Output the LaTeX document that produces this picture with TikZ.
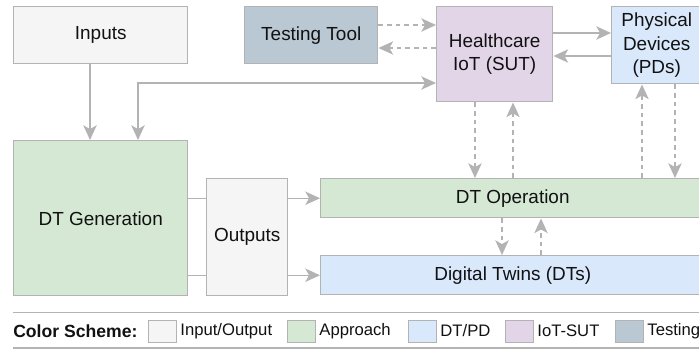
\documentclass[tikz,border=0pt]{standalone}
\usepackage{fontspec}
\setmainfont{Liberation Sans}
\usetikzlibrary{arrows.meta,positioning}

\definecolor{iofill}{HTML}{F5F5F5}
\definecolor{appfill}{HTML}{D5E8D4}
\definecolor{dtfill}{HTML}{DAE8FC}
\definecolor{iotfill}{HTML}{E1D5E7}
\definecolor{testfill}{HTML}{BAC8D3}
\definecolor{linegray}{HTML}{B3B3B3}
\definecolor{txt}{HTML}{111111}

\begin{document}
\begin{tikzpicture}[x=0.75pt,y=-0.75pt,
    box/.style={draw=linegray, line width=1.1pt, anchor=north west, align=center,
        inner sep=0pt, text=txt, font=\fontsize{14.2}{17.5}\selectfont},
    conn/.style={draw=linegray, line width=1.1pt},
    arr/.style={conn, -{Stealth[length=11pt,width=10pt,inset=2.8pt]}},
    dasharr/.style={arr, dash pattern=on 3.5pt off 3pt},
    swatch/.style={draw=linegray, line width=0.6pt, minimum width=28*\u, minimum height=22*\u, inner sep=0pt},
    legtext/.style={anchor=west, inner sep=0pt, text=txt, font=\fontsize{12.5}{15}\selectfont}]

\def\u{0.75pt}

\useasboundingbox (0,0) rectangle (699,350);

%boxes
\node[box, fill=iofill, minimum width=174*\u, minimum height=57*\u] (inp) at (13,6) {Inputs};
\node[box, fill=testfill, minimum width=133*\u, minimum height=57*\u] (tt) at (244,6) {Testing Tool};
\node[box, fill=iotfill, minimum width=116*\u, minimum height=95*\u] (hc) at (436,6) {Healthcare\\IoT (SUT)};
\node[box, fill=dtfill, minimum width=90*\u, minimum height=77*\u] (pd) at (611,6) {Physical\\Devices\\(PDs)};
\node[box, fill=appfill, minimum width=174*\u, minimum height=155*\u] (dtgen) at (13,140) {DT Generation};
\node[box, fill=iofill, minimum width=81*\u, minimum height=117*\u] (out) at (206,178) {Outputs};
\node[box, fill=appfill, minimum width=384*\u, minimum height=39*\u] (dtop) at (320,178) {DT Operation};
\node[box, fill=dtfill, minimum width=384*\u, minimum height=39*\u] (dts) at (320,255) {Digital Twins (DTs)};

%solid arrows
\draw[arr] (inp.south -| 90,0) -- (dtgen.north -| 90,0);
\draw[arr, {Stealth[length=11pt,width=10pt,inset=2.8pt]}-{Stealth[length=11pt,width=10pt,inset=2.8pt]}]
    (hc.west |- 0,83) -| (dtgen.north -| 138,0);
\draw[arr] (hc.east |- 0,33) -- (pd.west |- 0,33);
\draw[arr] (pd.west |- 0,56) -- (hc.east |- 0,56);

%outputs
\draw[conn] (dtgen.east |- dtop.west) -- (out.west |- dtop.west);
\draw[conn] (dtgen.east |- dts.west) -- (out.west |- dts.west);
\draw[arr] (out.east |- dtop.west) -- (dtop.west);
\draw[arr] (out.east |- dts.west) -- (dts.west);

%dashed arrows
\draw[dasharr] (tt.east |- 0,25) -- (hc.west |- 0,25);
\draw[dasharr] (hc.west |- 0,48) -- (tt.east |- 0,48);
\draw[dasharr] (hc.south -| 475,0) -- (dtop.north -| 475,0);
\draw[dasharr] (dtop.north -| 513,0) -- (hc.south -| 513,0);
\draw[dasharr] (dtop.north -| 642,0) -- (pd.south -| 642,0);
\draw[dasharr] (pd.south -| 675,0) -- (dtop.north -| 675,0);
\draw[dasharr] (dtop.south -| 502,0) -- (dts.north -| 502,0);
\draw[dasharr] (dts.north -| 541,0) -- (dtop.south -| 541,0);

%legend
\coordinate (legtop) at (13,312.5);
\coordinate (legbot) at (13,348);
\draw[conn, line width=1.4pt] (legtop) -- (legtop -| 710,0);
\draw[conn, line width=1.4pt] (legbot) -- (legbot -| 710,0);
\node[legtext, font=\fontsize{13.2}{15}\selectfont\bfseries] (cs) at (13,331) {Color Scheme:};
\foreach \x/\c/\t [count=\i] in {148/iofill/{Input/Output}, 287/appfill/Approach,
        408/dtfill/{DT/PD}, 505/iotfill/IoT-SUT, 615/testfill/Testing}{
    \node[swatch, fill=\c, anchor=west] (sw\i) at (\x,331) {};
    \node[legtext, right=2.5pt of sw\i] (lt\i) {\t};
}

\end{tikzpicture}
\end{document}
